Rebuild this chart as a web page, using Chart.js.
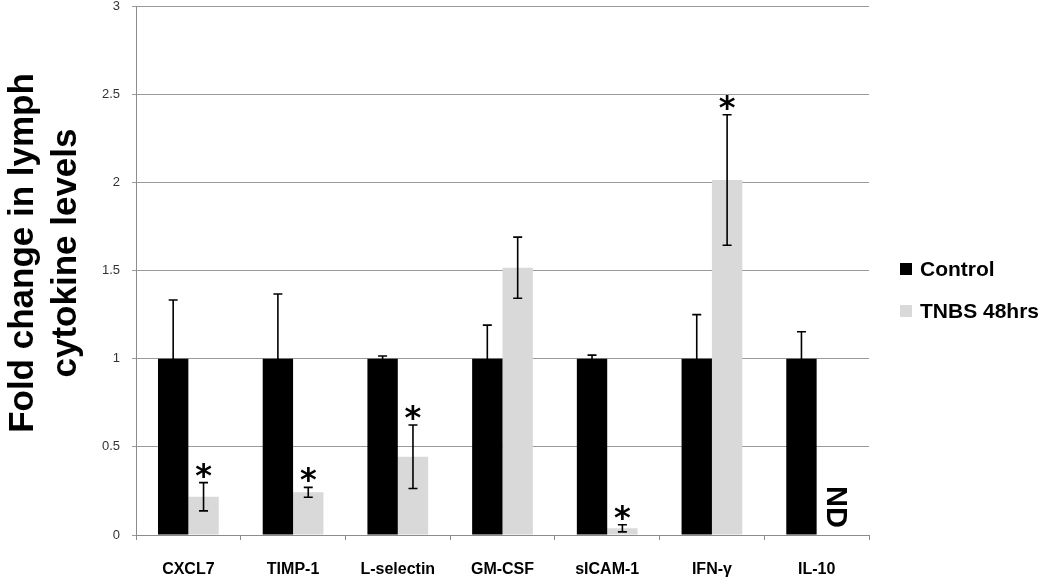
<!DOCTYPE html>
<html>
<head>
<meta charset="utf-8">
<script src="https://cdn.jsdelivr.net/npm/chart.js@4.4.1/dist/chart.umd.min.js"></script>
<style>
  html, body { margin: 0; padding: 0; background: #fff; }
  #wrap { width: 1050px; height: 588px; }
</style>
</head>
<body>
<div id="wrap"><canvas id="c" width="1050" height="588"></canvas></div>
<script>
const categories = ['CXCL7', 'TIMP-1', 'L-selectin', 'GM-CSF', 'sICAM-1', 'IFN-γ', 'IL-10'];
const controlValues = [1, 1, 1, 1, 1, 1, 1];
const controlErr = [0.333, 0.367, 0.015, 0.19, 0.02, 0.25, 0.153];
const tnbsValues = [0.217, 0.242, 0.444, 1.516, 0.038, 2.013, null];
const tnbsErr = [0.08, 0.028, 0.18, 0.173, 0.02, 0.37, null];
const tnbsSignificant = [true, true, true, false, true, true, false];
const seriesNames = ['Control', 'TNBS 48hrs'];
const yTickLabels = ['0', '0.5', '1', '1.5', '2', '2.5', '3'];
const yTitleLines = ['Fold change in lymph', 'cytokine levels'];
const notDetectedLabel = 'ND';

const seriesColors = ['#000000', '#d9d9d9'];

const extrasPlugin = {
  id: 'extras',
  afterDatasetsDraw(chart) {
    const ctx = chart.ctx;
    const y = chart.scales.y;
    const errs = [controlErr, tnbsErr];
    const vals = [controlValues, tnbsValues];
    ctx.save();
    [0, 1].forEach(di => {
      const meta = chart.getDatasetMeta(di);
      meta.data.forEach((bar, i) => {
        const v = vals[di][i];
        const e = errs[di][i];
        if (v === null || e === null) return;
        const yt = y.getPixelForValue(v + e);
        const yb = y.getPixelForValue(Math.max(0, v - e));
        const x = bar.x;
        ctx.strokeStyle = '#000';
        ctx.lineWidth = 1.6;
        ctx.beginPath();
        ctx.moveTo(x, yt); ctx.lineTo(x, yb);
        ctx.moveTo(x - 4.5, yt); ctx.lineTo(x + 4.5, yt);
        ctx.moveTo(x - 4.5, yb); ctx.lineTo(x + 4.5, yb);
        ctx.stroke();
        if (di === 1 && tnbsSignificant[i]) {
          ctx.fillStyle = '#000';
          ctx.font = 'bold 32px "DejaVu Sans", sans-serif';
          ctx.textAlign = 'center';
          ctx.textBaseline = 'alphabetic';
          ctx.fillText('*', x, yt + 3);
        }
      });
    });
    const meta1 = chart.getDatasetMeta(1);
    tnbsValues.forEach((v, i) => {
      if (v !== null) return;
      const x = meta1.data[i].x;
      ctx.save();
      ctx.translate(x + 3, y.getPixelForValue(0) - 28);
      ctx.rotate(Math.PI / 2);
      ctx.fillStyle = '#000';
      ctx.font = 'bold 29px "Liberation Sans", Arial, sans-serif';
      ctx.textAlign = 'center';
      ctx.textBaseline = 'middle';
      ctx.fillText(notDetectedLabel, 0, 0);
      ctx.restore();
    });
    ctx.save();
    ctx.fillStyle = '#000';
    ctx.font = 'bold 35px "Liberation Sans", Arial, sans-serif';
    ctx.textAlign = 'center';
    ctx.textBaseline = 'middle';
    yTitleLines.forEach((t, k) => {
      ctx.save();
      ctx.translate(23 + k * 43, 253);
      ctx.rotate(-Math.PI / 2);
      ctx.fillText(t, 0, 0);
      ctx.restore();
    });
    ctx.restore();
    ctx.font = 'bold 21px "Liberation Sans", Arial, sans-serif';
    ctx.textAlign = 'left';
    ctx.textBaseline = 'middle';
    seriesNames.forEach((name, k) => {
      const cy = 269 + k * 42;
      ctx.fillStyle = seriesColors[k];
      ctx.fillRect(900, cy - 6, 12, 12);
      ctx.fillStyle = '#000';
      ctx.fillText(name, 920, cy + 1);
    });
    ctx.restore();
  }
};

new Chart(document.getElementById('c'), {
  type: 'bar',
  data: {
    labels: categories,
    datasets: [
      { label: seriesNames[0], data: controlValues, backgroundColor: seriesColors[0], borderWidth: 0,
        categoryPercentage: 0.58, barPercentage: 1.0 },
      { label: seriesNames[1], data: tnbsValues, backgroundColor: seriesColors[1], borderWidth: 0,
        categoryPercentage: 0.58, barPercentage: 1.0 }
    ]
  },
  options: {
    responsive: false,
    animation: false,
    devicePixelRatio: 1,
    layout: { padding: { top: 6, right: 181, left: 0, bottom: 0 } },
    plugins: { legend: { display: false }, tooltip: { enabled: false } },
    scales: {
      x: {
        grid: { display: true, drawOnChartArea: false, drawTicks: true, tickLength: 5, color: '#8c8c8c', offset: true },
        border: { display: true, color: '#8c8c8c', width: 1 },
        ticks: { color: '#000', padding: 20, font: { family: '"Liberation Sans", Arial', size: 16, weight: 'bold' } },
        afterFit(scale) { scale.height = 53; scale.paddingLeft = 0; scale.paddingRight = 0; }
      },
      y: {
        min: 0, max: 3,
        grid: { color: '#9a9a9a', lineWidth: 1, tickLength: 4, drawTicks: true },
        border: { display: true, color: '#8c8c8c', width: 1 },
        ticks: {
          stepSize: 0.5, color: '#333', padding: 12,
          font: { family: '"Liberation Sans", Arial', size: 13 },
          callback: (value, index) => yTickLabels[index]
        },
        afterFit(scale) { scale.width = 136; scale.paddingTop = 0; scale.paddingBottom = 0; }
      }
    }
  },
  plugins: [extrasPlugin]
});
</script>
</body>
</html>
